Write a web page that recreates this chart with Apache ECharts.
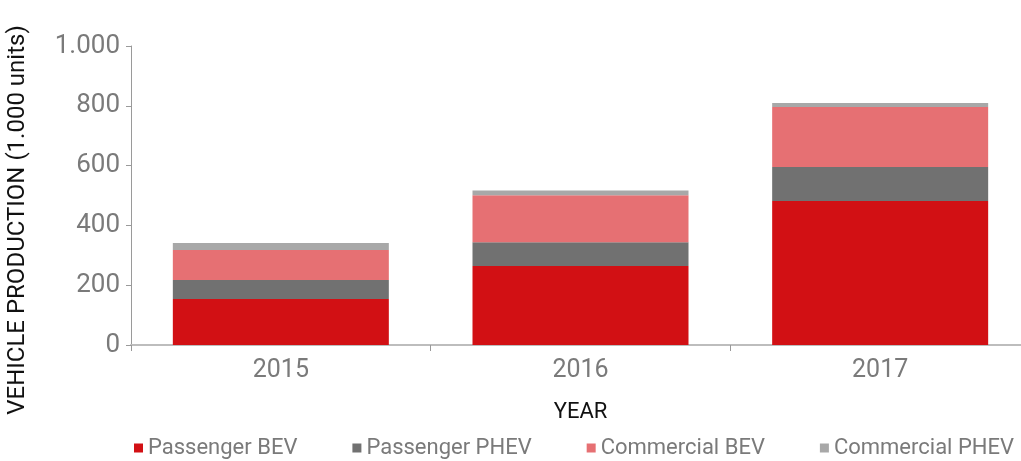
<!DOCTYPE html>
<html>
<head>
<meta charset="utf-8">
<script src="https://cdn.jsdelivr.net/npm/echarts@6/dist/echarts.min.js"></script>
<style>
  html, body { margin: 0; padding: 0; background: #fff; }
  #chart { width: 1021px; height: 461px; }
</style>
</head>
<body>
<div id="chart"></div>
<script>
const years = ['2015', '2016', '2017']
const passengerBEV = [154, 264, 482]
const passengerPHEV = [63, 80, 113]
const commercialBEV = [101, 157, 201]
const commercialPHEV = [23, 16, 13]
const yTicks = [0, 200, 400, 600, 800, 1000]

const font = 'Roboto, "DejaVu Sans", sans-serif'
const grey = '#7a7a7a'

const myChart = echarts.init(document.getElementById('chart'))

function bar (name, data, color) {
  return {
    name: name,
    type: 'bar',
    stack: 'total',
    barWidth: 216,
    itemStyle: { color: color },
    data: data
  }
}

myChart.setOption({
  animation: false,
  grid: {
    left: 131,
    right: -9,
    top: 46,
    bottom: 116,
    outerBoundsMode: 'none'
  },
  legend: {
    left: 134,
    top: 437,
    padding: 0,
    width: 887,
    itemWidth: 9,
    itemHeight: 9,
    itemGap: 55,
    icon: 'rect',
    textStyle: {
      color: grey,
      fontFamily: font,
      fontSize: 22
    },
    data: ['Passenger BEV', 'Passenger PHEV', 'Commercial BEV', 'Commercial PHEV']
  },
  xAxis: {
    type: 'category',
    data: years,
    name: 'YEAR',
    nameLocation: 'middle',
    nameGap: 56,
    nameTextStyle: { color: '#111', fontFamily: font, fontSize: 22 },
    axisLine: { lineStyle: { color: '#bdbdbd', width: 2 } },
    axisTick: { show: true, length: 6, lineStyle: { color: '#999' } },
    axisLabel: { color: grey, fontFamily: font, fontSize: 25, margin: 13 }
  },
  yAxis: {
    type: 'value',
    min: yTicks[0],
    max: yTicks[yTicks.length - 1],
    interval: 200,
    splitLine: { show: false },
    axisLine: { show: true, lineStyle: { color: '#9a9a9a', width: 1 } },
    axisTick: { show: true, length: 5, lineStyle: { color: '#9a9a9a' } },
    axisLabel: {
      color: grey,
      fontFamily: font,
      fontSize: 26,
      margin: 11,
      formatter: function (v) {
        return v >= 1000 ? (v / 1000) + '.' + String(v % 1000).padStart(3, '0') : String(v)
      }
    }
  },
  graphic: [{
    type: 'text',
    rotation: Math.PI / 2,
    x: 18,
    y: 220,
    style: {
      text: 'VEHICLE PRODUCTION (1.000 units)',
      fill: '#111',
      font: '24px ' + font,
      align: 'center',
      verticalAlign: 'middle'
    },
    originX: 0,
    originY: 0
  }],
  series: [
    bar('Passenger BEV', passengerBEV, '#d21014'),
    bar('Passenger PHEV', passengerPHEV, '#717171'),
    bar('Commercial BEV', commercialBEV, '#e67073'),
    bar('Commercial PHEV', commercialPHEV, '#a8a8a8')
  ]
})
</script>
</body>
</html>
